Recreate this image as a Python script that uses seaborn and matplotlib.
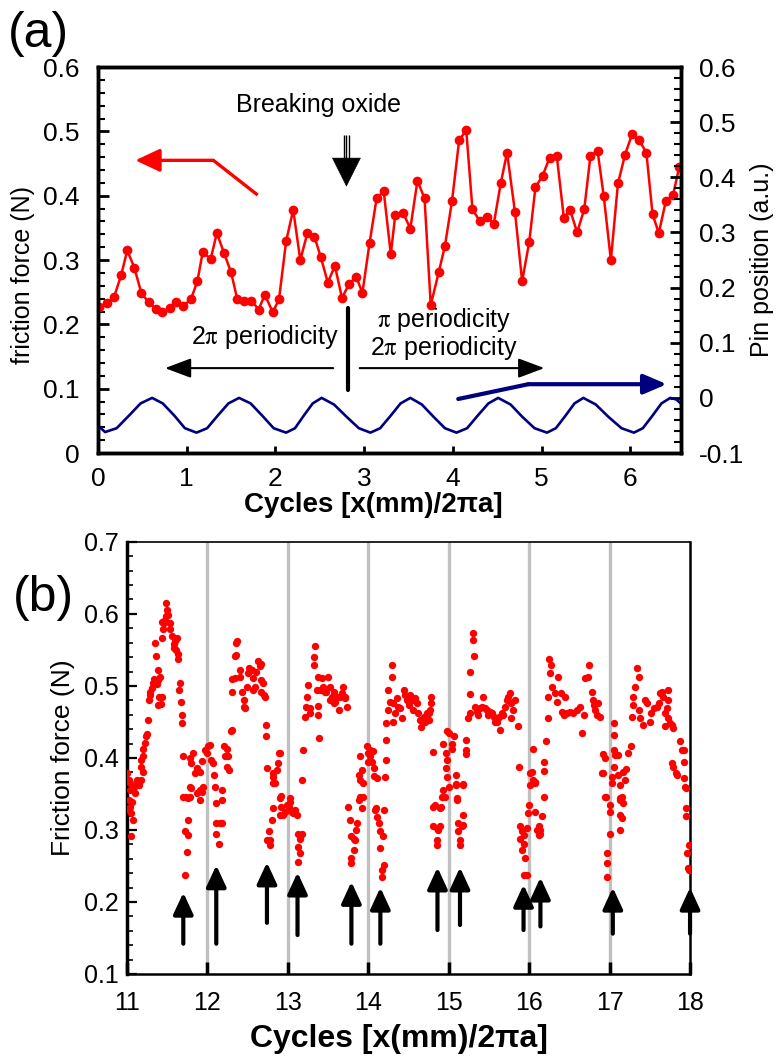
import numpy as np
import pandas as pd
import matplotlib
matplotlib.use('Agg')
import matplotlib.pyplot as plt
from matplotlib.ticker import MultipleLocator, FuncFormatter
import seaborn as sns

# ---------------- panel (a) data ----------------
a_cycle = [0.01, 0.10, 0.18, 0.26, 0.33, 0.41, 0.49, 0.57, 0.65, 0.72,
           0.81, 0.88, 0.96, 1.05, 1.12, 1.18, 1.27, 1.34, 1.42, 1.50,
           1.57, 1.65, 1.73, 1.81, 1.88, 1.97, 2.04, 2.12, 2.20, 2.28,
           2.36, 2.44, 2.51, 2.59, 2.67, 2.75, 2.83, 2.91, 2.98, 3.06,
           3.14, 3.22, 3.30, 3.35, 3.44, 3.52, 3.60, 3.68, 3.75, 3.84,
           3.91, 3.99, 4.07, 4.15, 4.22, 4.30, 4.38, 4.46, 4.54, 4.61,
           4.70, 4.78, 4.86, 4.93, 5.01, 5.09, 5.17, 5.25, 5.32, 5.40,
           5.48, 5.55, 5.63, 5.70, 5.78, 5.86, 5.94, 6.02, 6.10, 6.18,
           6.25, 6.32, 6.40, 6.48, 6.55, 6.63]
a_force = [0.227, 0.233, 0.242, 0.276, 0.315, 0.288, 0.248, 0.235, 0.224, 0.219,
           0.225, 0.235, 0.228, 0.240, 0.267, 0.312, 0.302, 0.342, 0.311, 0.281,
           0.239, 0.237, 0.237, 0.223, 0.246, 0.219, 0.239, 0.329, 0.378, 0.300,
           0.342, 0.336, 0.305, 0.265, 0.291, 0.241, 0.263, 0.274, 0.249, 0.326,
           0.396, 0.407, 0.309, 0.370, 0.373, 0.349, 0.423, 0.396, 0.230, 0.281,
           0.322, 0.392, 0.486, 0.502, 0.379, 0.361, 0.367, 0.356, 0.420, 0.467,
           0.374, 0.267, 0.328, 0.413, 0.431, 0.459, 0.462, 0.366, 0.378, 0.343,
           0.379, 0.462, 0.470, 0.399, 0.300, 0.419, 0.464, 0.496, 0.486, 0.467,
           0.371, 0.342, 0.392, 0.401, 0.444, 0.420]

pin_cycle = [0.00, 0.08, 0.21, 0.35, 0.48, 0.61, 0.73, 0.86, 0.98, 1.11,
             1.23, 1.35, 1.47, 1.59, 1.72, 1.85, 1.98, 2.12, 2.22, 2.32,
             2.42, 2.52, 2.66, 2.80, 2.94, 3.07, 3.18, 3.30, 3.41, 3.52,
             3.65, 3.78, 3.91, 4.04, 4.16, 4.28, 4.40, 4.51, 4.65, 4.78,
             4.92, 5.06, 5.16, 5.27, 5.37, 5.47, 5.61, 5.75, 5.90, 6.04,
             6.14, 6.25, 6.35, 6.45, 6.52, 6.60]
pin_pos = [-0.050, -0.062, -0.055, -0.032, -0.010, 0.000, -0.010, -0.032, -0.055, -0.063,
           -0.055, -0.032, -0.010, 0.000, -0.010, -0.032, -0.055, -0.063, -0.055, -0.032,
           -0.010, 0.000, -0.012, -0.034, -0.055, -0.063, -0.055, -0.032, -0.010, 0.000,
           -0.012, -0.034, -0.055, -0.063, -0.055, -0.032, -0.010, 0.000, -0.012, -0.034,
           -0.055, -0.063, -0.055, -0.032, -0.010, 0.000, -0.012, -0.034, -0.055, -0.063,
           -0.055, -0.032, -0.010, 0.000, -0.003, -0.015]

# ---------------- panel (b) data: (cycle, friction force) per cycle ----------------
seg_11 = [(11.00, 0.379), (11.02, 0.370), (11.04, 0.356), (11.12, 0.370), (11.15, 0.363),
          (11.18, 0.369), (11.195, 0.380), (11.18, 0.388), (11.18, 0.397), (11.195, 0.402),
          (11.20, 0.413), (11.22, 0.421), (11.235, 0.430), (11.245, 0.433), (11.265, 0.453),
          (11.275, 0.481), (11.29, 0.488), (11.28, 0.492), (11.31, 0.497), (11.32, 0.504),
          (11.34, 0.509), (11.35, 0.560), (11.37, 0.503), (11.39, 0.508), (11.41, 0.513),
          (11.39, 0.522), (11.36, 0.541), (11.40, 0.485), (11.42, 0.475), (11.43, 0.484),
          (11.39, 0.474), (11.43, 0.567), (11.45, 0.579), (11.46, 0.587), (11.44, 0.589),
          (11.47, 0.592), (11.49, 0.597), (11.49, 0.615), (11.50, 0.606), (11.51, 0.599),
          (11.535, 0.587), (11.54, 0.579), (11.56, 0.569), (11.58, 0.558), (11.60, 0.562),
          (11.59, 0.552), (11.61, 0.550), (11.63, 0.545), (11.64, 0.538), (11.62, 0.566),
          (11.66, 0.504), (11.65, 0.494), (11.67, 0.477), (11.68, 0.460), (11.68, 0.448),
          (11.70, 0.403), (11.00, 0.369), (11.04, 0.365), (11.02, 0.342), (11.04, 0.332),
          (11.08, 0.314), (11.05, 0.323), (11.03, 0.328), (11.06, 0.339), (11.10, 0.351),
          (11.09, 0.360), (11.12, 0.367), (11.05, 0.291),
          (11.73, 0.346), (11.76, 0.344), (11.76, 0.314), (11.72, 0.298), (11.76, 0.293),
          (11.75, 0.270), (11.72, 0.237), (11.78, 0.359), (11.70, 0.346), (11.78, 0.400),
          (11.82, 0.407), (11.80, 0.393), (11.87, 0.386), (11.85, 0.379), (11.80, 0.358),
          (11.78, 0.346), (11.93, 0.396), (11.91, 0.381), (11.91, 0.356), (11.95, 0.360),
          (11.97, 0.411), (11.99, 0.407), (11.87, 0.351), (11.91, 0.342), (11.93, 0.353)]
seg_12 = [(12.01, 0.416), (12.03, 0.418), (12.05, 0.397), (12.07, 0.393), (12.08, 0.376),
          (12.09, 0.360), (12.18, 0.356), (12.20, 0.416), (12.24, 0.413), (12.22, 0.402),
          (12.24, 0.388), (12.27, 0.383), (12.26, 0.402), (12.11, 0.337), (12.18, 0.342),
          (12.11, 0.309), (12.18, 0.309), (12.11, 0.295), (12.14, 0.281), (12.16, 0.310),
          (12.29, 0.437), (12.30, 0.439), (12.31, 0.491), (12.30, 0.509), (12.34, 0.511),
          (12.34, 0.541), (12.36, 0.543), (12.36, 0.559), (12.37, 0.563), (12.40, 0.522),
          (12.41, 0.513), (12.43, 0.492), (12.45, 0.481), (12.46, 0.471), (12.47, 0.469),
          (12.49, 0.499), (12.51, 0.518), (12.52, 0.525), (12.55, 0.522), (12.57, 0.511),
          (12.57, 0.494), (12.59, 0.499), (12.61, 0.520), (12.63, 0.534), (12.65, 0.527),
          (12.67, 0.531), (12.66, 0.508), (12.69, 0.504), (12.67, 0.492), (12.70, 0.487),
          (12.72, 0.485), (12.73, 0.446), (12.73, 0.430), (12.74, 0.386), (12.81, 0.379),
          (12.82, 0.373), (12.84, 0.365), (12.86, 0.383), (12.88, 0.393), (12.89, 0.407),
          (12.74, 0.286), (12.78, 0.286), (12.76, 0.298), (12.80, 0.314), (12.81, 0.330),
          (12.82, 0.365), (12.78, 0.279), (12.90, 0.344), (12.92, 0.332), (12.90, 0.321),
          (12.94, 0.321), (12.97, 0.325), (12.99, 0.335), (12.90, 0.407), (12.92, 0.347)]
seg_13 = [(13.01, 0.332), (13.03, 0.339), (13.05, 0.325), (13.07, 0.323), (13.11, 0.321),
          (13.09, 0.328), (13.13, 0.295), (13.17, 0.295), (13.15, 0.288), (13.13, 0.277),
          (13.15, 0.268), (13.13, 0.256), (13.03, 0.344), (13.17, 0.370), (13.19, 0.411),
          (13.21, 0.457), (13.23, 0.471), (13.24, 0.485), (13.25, 0.501), (13.32, 0.529),
          (13.32, 0.540), (13.34, 0.555), (13.27, 0.469), (13.28, 0.462), (13.36, 0.494),
          (13.37, 0.513), (13.38, 0.472), (13.38, 0.460), (13.39, 0.428), (13.40, 0.494),
          (13.42, 0.494), (13.42, 0.511), (13.44, 0.499), (13.46, 0.492), (13.48, 0.492),
          (13.50, 0.513), (13.52, 0.499), (13.52, 0.481), (13.55, 0.485), (13.57, 0.476),
          (13.59, 0.478), (13.61, 0.485), (13.63, 0.467), (13.65, 0.485), (13.67, 0.490),
          (13.69, 0.499), (13.71, 0.485), (13.73, 0.471), (13.71, 0.483), (13.57, 0.492),
          (13.88, 0.376), (13.90, 0.402), (13.90, 0.370), (13.92, 0.383), (13.94, 0.346),
          (13.98, 0.416), (13.75, 0.332), (13.77, 0.314), (13.78, 0.291), (13.82, 0.288),
          (13.84, 0.286), (13.86, 0.309), (13.82, 0.272), (13.79, 0.261), (13.78, 0.254),
          (13.85, 0.300), (13.88, 0.342), (13.90, 0.346), (13.92, 0.330), (13.94, 0.365)]
seg_14 = [(14.00, 0.407), (14.02, 0.402), (14.04, 0.395), (14.00, 0.395), (14.06, 0.409),
          (14.07, 0.386), (14.07, 0.375), (14.02, 0.411), (14.08, 0.328), (14.11, 0.318),
          (14.13, 0.309), (14.15, 0.298), (14.19, 0.328), (14.18, 0.291), (14.15, 0.275),
          (14.19, 0.251), (14.17, 0.245), (14.17, 0.235), (14.10, 0.330), (14.11, 0.372),
          (14.21, 0.374), (14.22, 0.425), (14.22, 0.397), (14.22, 0.448), (14.24, 0.467),
          (14.25, 0.494), (14.30, 0.529), (14.30, 0.513), (14.27, 0.478), (14.31, 0.476),
          (14.33, 0.462), (14.31, 0.450), (14.36, 0.483), (14.37, 0.471), (14.40, 0.469),
          (14.42, 0.455), (14.44, 0.494), (14.46, 0.487), (14.48, 0.481), (14.50, 0.474),
          (14.52, 0.487), (14.54, 0.481), (14.56, 0.467), (14.58, 0.483), (14.60, 0.476),
          (14.62, 0.462), (14.64, 0.453), (14.66, 0.443), (14.69, 0.457), (14.71, 0.450),
          (14.75, 0.453), (14.77, 0.467), (14.78, 0.476), (14.78, 0.485), (14.80, 0.408),
          (14.75, 0.462), (14.73, 0.462), (14.93, 0.420), (14.96, 0.407), (14.98, 0.397),
          (14.96, 0.386), (14.98, 0.374), (14.81, 0.332), (14.83, 0.335), (14.89, 0.330),
          (14.91, 0.332), (14.81, 0.305), (14.85, 0.302), (14.87, 0.300), (14.89, 0.305),
          (14.85, 0.286), (14.85, 0.279), (14.93, 0.356), (14.92, 0.346), (14.95, 0.346),
          (14.98, 0.437)]
seg_15 = [(15.00, 0.434), (15.00, 0.360), (15.10, 0.342), (15.09, 0.362), (15.18, 0.362),
          (15.18, 0.321), (15.12, 0.309), (15.16, 0.305), (15.12, 0.298), (15.14, 0.286),
          (15.14, 0.279), (15.18, 0.307), (15.04, 0.420), (15.06, 0.430), (15.04, 0.413),
          (15.09, 0.376), (15.09, 0.364), (15.18, 0.364), (15.10, 0.344), (15.22, 0.425),
          (15.22, 0.411), (15.22, 0.406), (15.24, 0.455), (15.26, 0.463), (15.27, 0.489),
          (15.27, 0.519), (15.31, 0.542), (15.30, 0.564), (15.30, 0.574), (15.33, 0.471),
          (15.35, 0.464), (15.37, 0.460), (15.39, 0.469), (15.43, 0.485), (15.41, 0.471),
          (15.45, 0.469), (15.47, 0.467), (15.49, 0.460), (15.51, 0.464), (15.54, 0.462),
          (15.56, 0.457), (15.58, 0.450), (15.60, 0.450), (15.64, 0.439), (15.62, 0.457),
          (15.66, 0.462), (15.68, 0.460), (15.70, 0.471), (15.72, 0.481), (15.74, 0.485),
          (15.76, 0.490), (15.78, 0.476), (15.78, 0.455), (15.80, 0.467), (15.83, 0.481),
          (15.86, 0.444), (15.87, 0.388), (15.89, 0.305), (15.91, 0.298), (15.93, 0.293),
          (15.89, 0.288), (15.93, 0.281), (15.91, 0.272), (15.95, 0.261), (15.94, 0.237),
          (15.97, 0.237), (15.97, 0.302), (15.99, 0.323)]
seg_16 = [(16.00, 0.335), (16.01, 0.362), (16.07, 0.367), (16.07, 0.325), (16.12, 0.305),
          (16.14, 0.300), (16.12, 0.293), (16.16, 0.319), (16.18, 0.346), (16.13, 0.295),
          (16.10, 0.300), (16.01, 0.379), (16.03, 0.381), (16.05, 0.369), (16.07, 0.365),
          (16.05, 0.413), (16.19, 0.395), (16.19, 0.382), (16.21, 0.423), (16.23, 0.455),
          (16.24, 0.485), (16.26, 0.518), (16.27, 0.529), (16.25, 0.538), (16.28, 0.499),
          (16.32, 0.490), (16.34, 0.478), (16.36, 0.513), (16.39, 0.490), (16.41, 0.464),
          (16.43, 0.460), (16.45, 0.485), (16.47, 0.462), (16.51, 0.464), (16.55, 0.462),
          (16.59, 0.467), (16.63, 0.471), (16.68, 0.460), (16.66, 0.434), (16.70, 0.511),
          (16.74, 0.529), (16.73, 0.513), (16.78, 0.492), (16.79, 0.481), (16.80, 0.474),
          (16.82, 0.467), (16.84, 0.460), (16.88, 0.457), (16.86, 0.476), (16.92, 0.406),
          (16.94, 0.400), (16.92, 0.379), (16.90, 0.379), (16.94, 0.346), (16.95, 0.346),
          (16.97, 0.268), (16.97, 0.254), (16.97, 0.234)]
seg_17 = [(17.03, 0.373), (17.06, 0.448), (17.06, 0.432), (17.05, 0.411), (17.07, 0.404),
          (17.05, 0.388), (17.11, 0.404), (17.11, 0.376), (17.13, 0.344), (17.17, 0.381),
          (17.21, 0.384), (17.23, 0.407), (17.26, 0.416), (17.19, 0.369), (17.01, 0.335),
          (17.03, 0.365), (17.13, 0.362), (17.13, 0.342), (17.15, 0.346), (17.17, 0.337),
          (17.13, 0.321), (17.15, 0.316), (17.13, 0.300), (17.01, 0.295), (17.01, 0.325),
          (17.28, 0.457), (17.29, 0.485), (17.29, 0.474), (17.32, 0.499), (17.34, 0.525),
          (17.36, 0.512), (17.36, 0.467), (17.38, 0.455), (17.42, 0.446), (17.44, 0.481),
          (17.46, 0.476), (17.50, 0.450), (17.52, 0.462), (17.55, 0.469), (17.59, 0.471),
          (17.61, 0.476), (17.63, 0.490), (17.65, 0.492), (17.67, 0.485), (17.69, 0.462),
          (17.69, 0.444), (17.71, 0.469), (17.73, 0.494), (17.73, 0.481), (17.72, 0.455),
          (17.75, 0.448), (17.77, 0.446), (17.79, 0.441), (17.77, 0.393), (17.79, 0.388),
          (17.82, 0.379), (17.84, 0.376), (17.88, 0.423), (17.90, 0.411), (17.92, 0.395),
          (17.92, 0.411), (17.93, 0.372), (17.95, 0.358), (17.94, 0.360), (17.95, 0.330),
          (17.95, 0.319), (17.99, 0.279), (17.96, 0.268), (17.98, 0.247), (17.99, 0.244)]

# upward arrows in panel (b): position, tail, head tip
arrow_x = [11.70, 12.11, 12.74, 13.12, 13.79, 14.15, 14.86, 15.14, 15.93, 16.14, 17.04, 18.00]
arrow_tail = [0.142, 0.142, 0.171, 0.154, 0.142, 0.142, 0.161, 0.168, 0.161, 0.166, 0.156, 0.156]
arrow_tip = [0.213, 0.251, 0.255, 0.241, 0.228, 0.220, 0.248, 0.248, 0.224, 0.234, 0.220, 0.220]

b_points = seg_11 + seg_12 + seg_13 + seg_14 + seg_15 + seg_16 + seg_17
df_b = pd.DataFrame(b_points, columns=['cycle', 'force'])

sns.set_style('ticks')
plt.rcParams['font.family'] = ['Liberation Sans', 'DejaVu Sans']
plt.rcParams['mathtext.fontset'] = 'stix'
plt.rcParams['axes.unicode_minus'] = False
for key in ['text.color', 'axes.labelcolor', 'xtick.color', 'ytick.color', 'axes.edgecolor']:
    plt.rcParams[key] = 'black'

fmt = FuncFormatter(lambda v, p: f'{v:g}')
fig = plt.figure(figsize=(7.82, 10.59), dpi=100)

#---------------- panel (a) ----------------
ax = fig.add_axes([0.1253, 0.5722, 0.7455, 0.3645])
ax2 = ax.twinx()
sns.lineplot(x=a_cycle, y=a_force, ax=ax, color='red', marker='o', markersize=7,
             markeredgewidth=0, linewidth=1.8, sort=False, estimator=None, zorder=3)
sns.lineplot(x=pin_cycle, y=pin_pos, ax=ax2, color='#00007f', linewidth=1.9,
             sort=False, estimator=None)

ax.set_xlim(0, 6.57)
ax.set_ylim(0, 0.6)
ax2.set_ylim(-0.1, 0.6)
ax.set_xticks(range(7))
ax.set_yticks(np.arange(0, 0.61, 0.1))
ax2.set_yticks(np.arange(-0.1, 0.61, 0.1))
for a in (ax, ax2):
    a.yaxis.set_minor_locator(MultipleLocator(0.02))
    a.yaxis.set_major_formatter(fmt)
    for s in a.spines.values():
        s.set_linewidth(2.5)
        s.set_color('black')
ax.tick_params(axis='y', which='major', direction='in', length=8, width=2, labelsize=19, pad=13)
ax.tick_params(axis='y', which='minor', direction='in', length=5, width=1.5)
ax.tick_params(axis='x', which='major', direction='in', length=5, width=2, labelsize=19, pad=10)
ax2.tick_params(axis='y', which='major', direction='in', length=8, width=2, labelsize=19, pad=13)
ax2.tick_params(axis='y', which='minor', direction='in', length=5, width=1.5)
ax.set_ylabel('friction force (N)', fontsize=18)
ax.yaxis.set_label_coords(-0.108, 0.46)
ax2.set_ylabel('Pin position (a.u.)', fontsize=18, labelpad=4)
ax.set_xlabel('Cycles [x(mm)/2πa]', fontsize=20, fontweight='bold', labelpad=2)
ax.xaxis.set_label_coords(0.472, -0.1)

# annotations
ax.text(2.48, 0.541, 'Breaking oxide', fontsize=18, ha='center', va='center')
ax.vlines([2.775, 2.80, 2.825], 0.452, 0.495, color='black', lw=1.0)
ax.annotate('', xy=(2.80, 0.414), xytext=(2.80, 0.47),
            arrowprops=dict(arrowstyle='-|>,head_length=1.0,head_width=0.5', color='black',
                            lw=0.5, mutation_scale=20, shrinkA=0, shrinkB=0))
ax.plot([1.80, 1.30], [0.401, 0.455], color='red', lw=2.4, solid_capstyle='butt')
ax.annotate('', xy=(0.42, 0.455), xytext=(1.30, 0.455),
            arrowprops=dict(arrowstyle='-|>,head_length=0.75,head_width=0.35', color='red',
                            lw=2.4, mutation_scale=20, shrinkA=0, shrinkB=0))
ax.plot([2.82, 2.82], [0.098, 0.225], color='black', lw=3)
ax.text(2.71, 0.18, r'2$\mathrm{\pi}$ periodicity', fontsize=18, ha='right', va='center')
ax.annotate('', xy=(0.755, 0.132), xytext=(2.65, 0.132),
            arrowprops=dict(arrowstyle='-|>,head_length=0.8,head_width=0.3', color='black',
                            lw=1.5, mutation_scale=20, shrinkA=0, shrinkB=0))
ax.text(3.90, 0.207, r'$\mathrm{\pi}$ periodicity', fontsize=18, ha='center', va='center')
ax.text(3.90, 0.163, r'2$\mathrm{\pi}$ periodicity', fontsize=18, ha='center', va='center')
ax.annotate('', xy=(5.03, 0.132), xytext=(2.95, 0.132),
            arrowprops=dict(arrowstyle='-|>,head_length=0.8,head_width=0.3', color='black',
                            lw=1.5, mutation_scale=20, shrinkA=0, shrinkB=0))
ax.plot([4.06, 4.85], [0.084, 0.107], color='#00007f', lw=3)
ax.annotate('', xy=(6.41, 0.107), xytext=(4.85, 0.107),
            arrowprops=dict(arrowstyle='-|>,head_length=0.7,head_width=0.3', color='#00007f',
                            lw=3, mutation_scale=20, shrinkA=0, shrinkB=0))
fig.text(0.010, 0.968, '(a)', fontsize=36, va='center', ha='left')

#---------------- panel (b) ----------------
bx = fig.add_axes([0.1624, 0.0803, 0.72, 0.408])
for c in range(12, 18):
    bx.axvline(c, color='#c0c0c0', lw=2.4, zorder=0.5)
sns.scatterplot(data=df_b, x='cycle', y='force', ax=bx, color='red', s=28,
                linewidth=0, zorder=3, legend=False)
for x, t0, t1 in zip(arrow_x, arrow_tail, arrow_tip):
    bx.annotate('', xy=(x, t1), xytext=(x, t0),
                arrowprops=dict(arrowstyle='-|>,head_length=0.65,head_width=0.3', color='black',
                                lw=3, mutation_scale=20, shrinkA=0, shrinkB=0),
                annotation_clip=False, zorder=4)
bx.set_xlim(11, 18)
bx.set_ylim(0.1, 0.7)
bx.set_xticks(range(11, 19))
bx.set_yticks(np.arange(0.1, 0.71, 0.1))
bx.yaxis.set_minor_locator(MultipleLocator(0.02))
bx.yaxis.set_major_formatter(fmt)
bx.spines['left'].set_linewidth(2.5)
bx.spines['bottom'].set_linewidth(1.8)
bx.spines['top'].set_linewidth(1.2)
bx.spines['right'].set_linewidth(1.8)
for s in bx.spines.values():
    s.set_color('black')
bx.tick_params(axis='x', which='major', direction='in', length=9, width=2.5, labelsize=18, pad=12)
bx.tick_params(axis='y', which='major', direction='in', length=7, width=1.6, labelsize=18, pad=6)
bx.tick_params(axis='y', which='minor', direction='in', length=4, width=1.2)
bx.set_ylabel('Friction force (N)', fontsize=19, labelpad=6)
bx.set_xlabel('Cycles [x(mm)/2πa]', fontsize=23, fontweight='bold', labelpad=4)
bx.xaxis.set_label_coords(0.483, -0.115)
fig.text(0.016, 0.435, '(b)', fontsize=36, va='center', ha='left')

fig.savefig('out.png', dpi=100)
